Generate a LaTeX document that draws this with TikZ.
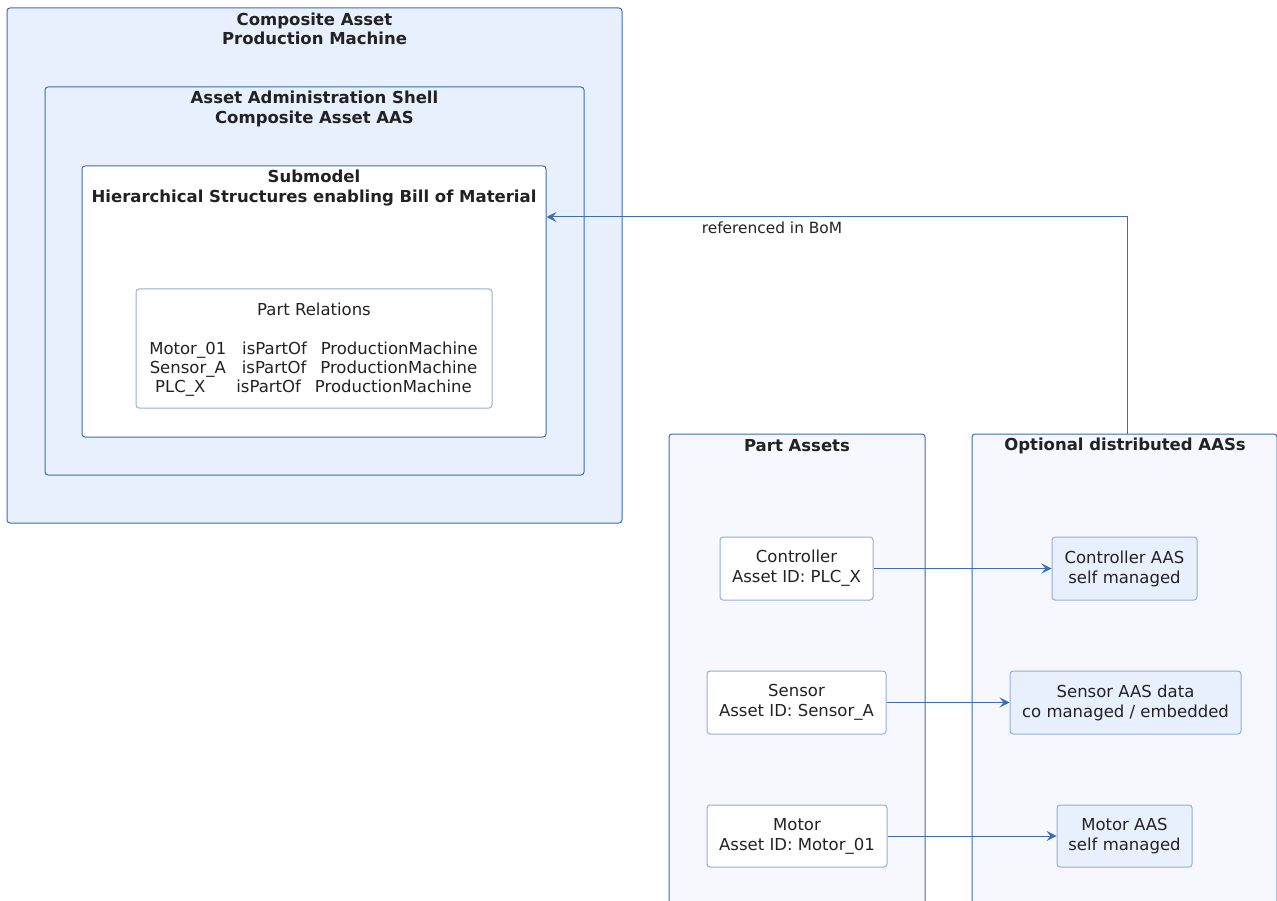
\documentclass[tikz,border=0pt]{standalone}
\usepackage{fontspec}
\setmainfont{DejaVu Sans}
\usetikzlibrary{arrows.meta}
\definecolor{frame}{HTML}{3D6CB3}
\definecolor{softframe}{HTML}{93AEDA}
\definecolor{paleblue}{HTML}{E8F0FE}
\definecolor{paler}{HTML}{F6F8FD}
\definecolor{ink}{HTML}{222222}
\tikzset{
  container/.style={draw=frame, line width=1pt, rounded corners=3pt, inner sep=0pt},
  title/.style={font=\fontsize{16.5}{19.5}\selectfont\bfseries, text=ink, align=center, inner sep=0pt},
  item/.style={draw=softframe, line width=1pt, rounded corners=3pt, inner sep=0pt,
    font=\fontsize{16.5}{20}\selectfont, text=ink, align=center},
  plain/.style={font=\fontsize{16.5}{19}\selectfont, text=ink, align=center, inner sep=0pt},
  arr/.style={draw=frame, line width=1pt, -{Stealth[length=10pt, width=10pt, inset=4pt]}},
}
\begin{document}
\begin{tikzpicture}[x=1pt, y=-1pt]
\useasboundingbox (0,0) rectangle (1277,901);

% composite asset and its nested shells
\node[container, fill=paleblue, minimum width=615pt, minimum height=515pt] (comp) at (314.5,265.5) {};
\node[title] (compT) at (314.5,29) {Composite Asset\\Production Machine};
\node[container, fill=paleblue, minimum width=539pt, minimum height=388pt] (aas) at (314.5,281) {};
\node[title] (aasT) at (314.5,109) {Asset Administration Shell\\Composite Asset AAS};
\node[container, fill=white, minimum width=464pt, minimum height=271pt] (sub) at (314,301.5) {};
\node[title] (subT) at (314,188) {Submodel\\Hierarchical Structures enabling Bill of Material};
\node[item, fill=white, minimum width=356pt, minimum height=119pt] (rel) at (314,348.5) {};
\node[plain] (relT) at (314,309.5) {Part Relations};
\node[plain] (relL) at (313.5,369.5) {%
  Motor\_01\hspace{16pt}isPartOf\hspace{14pt}ProductionMachine\\
  Sensor\_A\hspace{16pt}isPartOf\hspace{14pt}ProductionMachine\\
  PLC\_X\hspace{31pt}isPartOf\hspace{14pt}ProductionMachine};

% part assets and optional distributed shells
\node[container, fill=paler, minimum width=256pt, minimum height=486pt] (pa) at (797,677) {};
\node[title] (paT) at (797,446) {Part Assets};
\node[container, fill=paler, minimum width=305pt, minimum height=486pt] (opt) at (1124.5,677) {};
\node[title] (optT) at (1125,446) {Optional distributed AASs};

\node[item, fill=white, minimum width=153pt, minimum height=63pt] (ctrl) at (796.5,568.5) {Controller\\Asset ID: PLC\_X};
\node[item, fill=white, minimum width=179pt, minimum height=63pt] (sens) at (796.5,702.5) {Sensor\\Asset ID: Sensor\_A};
\node[item, fill=white, minimum width=180pt, minimum height=62pt] (mot) at (797,836) {Motor\\Asset ID: Motor\_01};

\node[item, fill=paleblue, minimum width=145pt, minimum height=63pt] (ctrlA) at (1124.5,568.5) {Controller AAS\\self managed};
\node[item, fill=paleblue, minimum width=231pt, minimum height=63pt] (sensA) at (1125.5,702.5) {Sensor AAS data\\co managed / embedded};
\node[item, fill=paleblue, minimum width=135pt, minimum height=62pt] (motA) at (1124.5,836) {Motor AAS\\self managed};

% connectors
\draw[arr] (ctrl.east) -- (ctrlA.west);
\draw[arr] (sens.east) -- (sensA.west);
\draw[arr] (mot.east) -- (motA.west);

\coordinate (bom) at (1127,217);
\draw[arr] (opt.north -| bom) -- (bom) -- (sub.east |- bom);
\node[plain, font=\fontsize{15.4}{18}\selectfont] (bomL) at (772,227.5) {referenced in BoM};
\end{tikzpicture}
\end{document}
